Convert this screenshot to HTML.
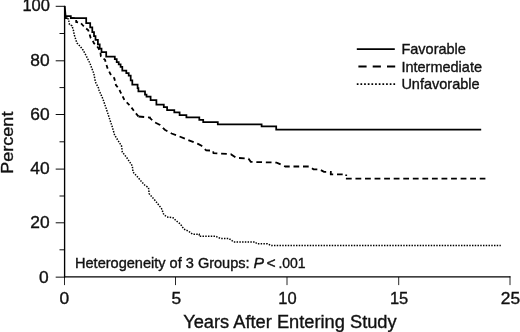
<!DOCTYPE html>
<html><head><meta charset="utf-8"><title>Survival by group</title>
<style>
html,body{margin:0;padding:0;background:#fff;}
svg{display:block;}
text{font-family:"Liberation Sans",Arial,Helvetica,sans-serif;fill:#111;stroke:#111;stroke-width:0.35px;}
</style></head><body>
<svg width="520" height="332" viewBox="0 0 520 332">
<rect width="520" height="332" fill="#fff"/>
<g stroke="#000" fill="none">
<path d="M64.6 5.8V277.6" stroke-width="1.35"/>
<path d="M64 276.95H510.4" stroke-width="1.3"/>
<path stroke-width="0.95" d="M55.7 6.3H64.6M55.7 60.8H64.6M55.7 114.5H64.6M55.7 169.1H64.6M55.7 222.8H64.6M55.7 277.15H64.6M59.5 33.5H64.6M59.5 87.6H64.6M59.5 141.8H64.6M59.5 196H64.6M59.5 249.8H64.6"/>
<path stroke-width="0.85" d="M64.5 277V285.1M175.5 277V285.1M287 277V285.1M398.7 277V285.1M510 276.2V285.1"/>
<path stroke-width="1.75" stroke-linejoin="miter" d="M64.7 6.0L65.6 16.2H70.8V18.2H86.2V23.0H90.2V27.4H92.3V32.2H94.0V36.0H95.5V39.9H97.9V44.4H99.7V48.5H101.5V52.0H106.2V56.5H114.8V59.1H116.7V62.0H118.7V64.4H120.6V66.8H122.3V70.7H126.3V73.0H128.7V75.5H130.7V80.3H132.3V84.7H137.6V88.0H138.4V91.4H145.0V94.5H146.5V96.5H150.6V100.2H156.4V104.6H163.8V107.1H167.1V110.0H174.3V112.4H179.6V115.1H186.4V117.4H199.3V119.9H203.2V122.0H217.8V124.3H261.6V126.4H276.2V129.5H481.2"/>
<path stroke-width="1.8" stroke-dasharray="3.9 3.3" d="M65.0 16.8V18.2H76.2V22.0L80.6 23.0L83.0 25.5L85.4 27.9L88.3 30.3L89.5 34.1L90.7 38.0L92.6 40.4L94.0 43.3L96.0 44.8L98.3 47.9L100.4 52.0L100.9 56.5L105.0 59.8L107.4 68.0L110.5 74.2L114.3 78.2L115.9 85.0L118.9 88.8L120.6 92.3L124.4 100.0L129.8 105.4L134.4 111.5L138.5 116.5"/>
<path stroke-width="1.8" stroke-dasharray="5.7 3.8" d="M138.5 116.5L150.0 117.5V118.2L154.6 122.3L160.0 124.9L164.8 129.7L171.6 133.5L179.3 136.4L188.9 140.3L198.5 144.1L201.5 145.8L206.2 150.4L213.0 150.6L213.5 153.2L230.8 154.2L236.2 157.8L248.5 158.7L250.8 161.9L276.6 162.6L285.3 166.5H309.5L313.5 169.3H319.3L324.0 171.8H330.8V174.3H346.2V176.0"/>
<path stroke-width="1.8" stroke-dasharray="5.8 3.76" d="M345.9 178.7H485.4"/>
<path stroke-width="1.5" stroke-dasharray="1.45 1.3" d="M65.0 17.0L68.5 19.2L69.5 24.6L72.0 25.8L73.4 30.3L74.3 35.0L76.2 40.8L77.0 43.0L80.0 46.2L81.5 48.0L83.0 50.0L86.2 55.8L90.0 63.5L93.8 73.5L95.4 82.0L98.5 88.0L99.2 90.8L100.8 94.2L103.0 99.2L106.2 108.5L109.2 117.7L112.3 127.0L114.6 135.0L117.7 140.0L121.5 145.8L122.3 152.0L127.0 158.0L132.3 165.8L133.0 172.0L138.5 178.0L140.8 180.8L144.6 185.0L148.5 187.7L149.2 193.8L155.4 200.8L161.5 208.5L163.8 214.6L167.0 217.0L173.0 217.7L176.2 220.8L180.0 223.7L180.8 224.6L183.8 229.0L188.7 231.3L192.5 234.2H199.2V236.2H215.6L220.4 238.5H229.0L233.8 242.0H255.0L257.0 243.8H267.5L271.3 245.6H500.8"/>
<path stroke-width="1.75" d="M356.8 49.1H394.8"/>
<path stroke-width="1.9" stroke-dasharray="8.2 6.1" d="M358.4 66.5H395.2"/>
<path stroke-width="1.7" stroke-dasharray="1.7 1.96" d="M356.8 84.2H395.2"/>
</g>
<g font-size="16" text-anchor="end">
<text transform="translate(49.9,11.35) scale(1.03,1)">100</text>
<text transform="translate(49.6,66.1) scale(1.085,1)">80</text>
<text transform="translate(49.6,119.8) scale(1.085,1)">60</text>
<text transform="translate(49.6,174.4) scale(1.085,1)">40</text>
<text transform="translate(49.6,228.2) scale(1.085,1)">20</text>
<text transform="translate(48.7,283.0) scale(1.085,1)">0</text>
</g>
<g font-size="16" text-anchor="middle">
<text transform="translate(64.4,303.6) scale(1.085,1)">0</text>
<text transform="translate(176.4,303.6) scale(1.085,1)">5</text>
<text transform="translate(287.4,303.6) scale(1.03,1)">10</text>
<text transform="translate(399.1,303.6) scale(1.03,1)">15</text>
<text transform="translate(510.4,303.6) scale(1.085,1)">25</text>
</g>
<text transform="translate(183.2,327.7) scale(1.0144,1)" font-size="18">Years After Entering Study</text>
<text transform="translate(12.5,173.7) rotate(-90) scale(1.1,1)" font-size="16.4">Percent</text>
<g font-size="14.5">
<text x="401.4" y="54.4">Favorable</text>
<text x="401.4" y="71.7">Intermediate</text>
<text x="401.4" y="89.2">Unfavorable</text>
</g>
<g font-size="14">
<text transform="translate(75,267.6) scale(1.04,1)">Heterogeneity of 3 Groups:</text>
<text transform="translate(253.6,267.6) scale(1.13,1)" font-style="italic">P</text>
<text transform="translate(266.6,267.6) scale(1.12,1)">&lt;</text>
<text x="278.4" y="267.6">.001</text>
</g>
</svg>
</body></html>
